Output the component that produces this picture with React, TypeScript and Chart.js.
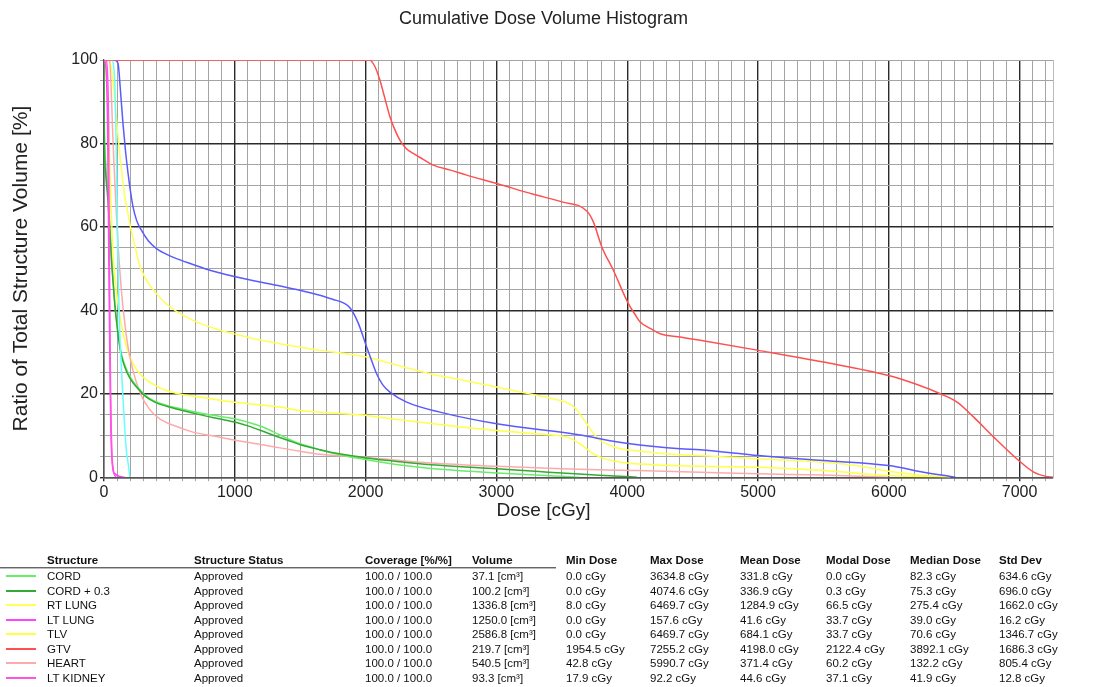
import React, { useEffect, useRef } from 'react';
import { Chart, registerables } from 'chart.js';

Chart.register(...registerables);

const FONT = '"Liberation Sans", Arial, sans-serif';

// ---- axes ----
const doseMin = 0;
const doseMax = 7255.2;
const doseMinorStep = 100;
const volMinorStep = 5;
const doseMajorTicks = [0, 1000, 2000, 3000, 4000, 5000, 6000, 7000];
const volMajorTicks = [0, 20, 40, 60, 80, 100];

// ---- DVH curves (dose cGy, volume %) ----
const gtvDose = [0, 1954.5, 2030, 2070, 2109, 2150, 2186, 2225, 2262, 2310, 2364, 2440, 2517, 2650, 2773, 3002, 3282, 3500, 3691, 3741, 3806, 3894, 4009, 4060, 4099, 4180, 4252, 4405, 4558, 5004, 5501, 5998, 6200, 6394, 6522, 6649, 6802, 6993, 7108, 7200, 7255.2];
const gtvVol = [100, 100, 100, 98.5, 95.2, 90.5, 86.4, 83.2, 80.8, 78.8, 77.6, 76.2, 74.8, 73.6, 72.4, 70.4, 67.8, 66.0, 63.8, 61.2, 55.2, 49.6, 41.6, 39.0, 37.2, 35.6, 34.4, 33.6, 32.8, 30.4, 27.6, 24.4, 22.4, 20.0, 18.0, 14.4, 9.6, 4.0, 1.2, 0.2, 0];

const blueDose = [0, 60, 80, 107, 125, 145, 165, 184, 205, 222, 250, 286, 340, 401, 480, 554, 680, 809, 1013, 1319, 1497, 1650, 1752, 1830, 1880, 1943, 2008, 2050, 2084, 2130, 2186, 2314, 2568, 3002, 3665, 3793, 4022, 4405, 4558, 5004, 5501, 5998, 6266, 6400, 6510];
const blueVol = [100, 100, 100, 99.2, 93, 84.8, 78, 72.8, 68, 64.8, 61.5, 59.2, 56.6, 54.8, 53.4, 52.4, 51, 49.6, 48, 46, 44.8, 43.6, 42.6, 41.8, 40.6, 37.0, 31.2, 27.6, 24.8, 22.2, 20.4, 18.0, 15.6, 12.8, 10.0, 9.2, 8.0, 6.8, 6.6, 5.2, 4.0, 2.8, 1.2, 0.5, 0];

const cordDose = [0, 1, 3, 6, 12, 20, 31, 45, 57, 70, 82, 95, 110, 130, 158, 200, 260, 320, 388, 480, 600, 732, 880, 1013, 1100, 1200, 1300, 1400, 1500, 1650, 1800, 2008, 2262, 2500, 2800, 3002, 3300, 3500, 3634.8];
const cordVol = [100, 92, 84, 80, 76, 72, 68, 60, 53, 47, 42, 38, 34, 30, 27, 24, 21.5, 19.5, 18.2, 17.2, 16.3, 15.4, 14.6, 13.9, 13.2, 12.2, 10.8, 9.3, 8.0, 6.6, 5.4, 4.2, 2.9, 2.1, 1.4, 1.0, 0.5, 0.2, 0];

const cord03Dose = [0, 1, 3, 6, 12, 20, 31, 45, 57, 70, 82, 95, 110, 130, 158, 200, 260, 320, 388, 480, 600, 732, 880, 1013, 1100, 1200, 1300, 1400, 1500, 1650, 1800, 2008, 2262, 2500, 2800, 3002, 3300, 3600, 3900, 4074.6];
const cord03Vol = [100, 88, 80, 76, 73, 70, 66, 59, 52, 46.5, 41.5, 37.5, 33.5, 29.5, 26.5, 23.6, 21.2, 19.3, 18, 17, 16, 15, 14, 13.1, 12.3, 11.2, 10.0, 8.9, 7.8, 6.6, 5.6, 4.6, 3.7, 3.0, 2.4, 2.0, 1.4, 0.8, 0.3, 0];

const rtLungDose = [0, 8, 50, 65, 80, 95, 110, 125, 140, 158, 184, 209, 240, 270, 311, 350, 400, 477, 560, 681, 850, 1013, 1200, 1344, 1497, 1650, 1850, 2008, 2200, 2492, 2750, 3002, 3250, 3487, 3560, 3614, 3650, 3691, 3740, 3793, 3870, 3946, 4100, 4405, 4558, 5004, 5501, 5750, 5998, 6200, 6469.7];
const rtLungVol = [100, 100, 99, 96, 91, 86, 81, 76, 72, 67.5, 63, 59, 55, 51, 48, 46, 44, 41.5, 39.6, 37.6, 35.6, 34.2, 32.8, 32, 31.2, 30.4, 29.6, 28.8, 27.2, 24.8, 23.2, 21.6, 20.0, 18.4, 17.6, 16.2, 14.6, 12.8, 10.6, 8.8, 7.6, 6.8, 6.2, 5.4, 5.2, 4.4, 3.6, 2.8, 1.4, 0.6, 0];

const ltLungDose = [0, 12, 20, 27, 32, 36, 40, 44, 48, 52, 58, 64, 70, 85, 110, 157.6];
const ltLungVol = [100, 99, 95, 85, 70, 55, 42, 30, 20, 12, 6, 3, 1.5, 0.8, 0.3, 0];

const tlvDose = [0, 10, 25, 35, 45, 55, 65, 80, 95, 110, 125, 140, 158, 184, 209, 250, 298, 380, 477, 600, 732, 987, 1200, 1344, 1497, 1750, 2008, 2250, 2517, 2750, 3002, 3300, 3538, 3640, 3690, 3741, 3830, 3946, 4200, 4558, 5004, 5501, 5998, 6200, 6469.7];
const tlvVol = [100, 99, 93, 85, 74, 64, 56, 49, 44.5, 41, 38, 35.5, 33, 30, 28, 25.8, 24, 22.2, 20.8, 19.8, 19.2, 18.0, 17.3, 16.8, 16.0, 15.4, 14.8, 13.8, 12.8, 12.0, 11.2, 10.4, 9.6, 8.0, 6.8, 5.6, 4.4, 3.6, 3.0, 2.6, 2.4, 1.6, 0.4, 0.15, 0];

const heartDose = [0, 42.8, 55, 65, 75, 90, 105, 120, 135, 155, 175, 200, 240, 286, 350, 426, 550, 681, 850, 1013, 1242, 1497, 1650, 2008, 2500, 3002, 3500, 4047, 4558, 5004, 5500, 5990.7];
const heartVol = [100, 100, 93, 84, 76, 66, 57, 50, 44, 38, 33, 28.5, 23.5, 19.5, 16.2, 14, 12.2, 10.8, 9.8, 8.8, 7.6, 6.2, 5.5, 4.7, 3.4, 2.6, 2.0, 1.6, 1.2, 0.8, 0.5, 0];

const ltKidneyDose = [0, 17.9, 28, 35, 39, 42, 46, 50, 55, 60, 66, 75, 92.2];
const ltKidneyVol = [100, 100, 96, 85, 65, 50, 35, 22, 12, 6, 3, 1, 0];

const cyanDose = [0, 65, 75, 83, 90, 97, 103, 108, 114, 120, 130, 145, 160, 172, 184, 197];
const cyanVol = [100, 100, 98, 94, 85, 72, 60, 50, 42, 35, 28, 19, 11, 6, 3.5, 0];

// ---- table ----
const tableHeaders = ['Structure', 'Structure Status', 'Coverage [%/%]', 'Volume', 'Min Dose', 'Max Dose', 'Mean Dose', 'Modal Dose', 'Median Dose', 'Std Dev'];
const structureNames = ['CORD', 'CORD + 0.3', 'RT LUNG', 'LT LUNG', 'TLV', 'GTV', 'HEART', 'LT KIDNEY'];
const structureColors = ['#66ee66', '#33aa33', '#ffff55', '#ff44ff', '#ffff44', '#ff5050', '#ffaaaa', '#ff55dd'];
const structureStatus = ['Approved', 'Approved', 'Approved', 'Approved', 'Approved', 'Approved', 'Approved', 'Approved'];
const coverage = ['100.0 / 100.0', '100.0 / 100.0', '100.0 / 100.0', '100.0 / 100.0', '100.0 / 100.0', '100.0 / 100.0', '100.0 / 100.0', '100.0 / 100.0'];
const volumes = ['37.1 [cm³]', '100.2 [cm³]', '1336.8 [cm³]', '1250.0 [cm³]', '2586.8 [cm³]', '219.7 [cm³]', '540.5 [cm³]', '93.3 [cm³]'];
const minDose = ['0.0 cGy', '0.0 cGy', '8.0 cGy', '0.0 cGy', '0.0 cGy', '1954.5 cGy', '42.8 cGy', '17.9 cGy'];
const maxDose = ['3634.8 cGy', '4074.6 cGy', '6469.7 cGy', '157.6 cGy', '6469.7 cGy', '7255.2 cGy', '5990.7 cGy', '92.2 cGy'];
const meanDose = ['331.8 cGy', '336.9 cGy', '1284.9 cGy', '41.6 cGy', '684.1 cGy', '4198.0 cGy', '371.4 cGy', '44.6 cGy'];
const modalDose = ['0.0 cGy', '0.3 cGy', '66.5 cGy', '33.7 cGy', '33.7 cGy', '2122.4 cGy', '60.2 cGy', '37.1 cGy'];
const medianDose = ['82.3 cGy', '75.3 cGy', '275.4 cGy', '39.0 cGy', '70.6 cGy', '3892.1 cGy', '132.2 cGy', '41.9 cGy'];
const stdDev = ['634.6 cGy', '696.0 cGy', '1662.0 cGy', '16.2 cGy', '1346.7 cGy', '1686.3 cGy', '805.4 cGy', '12.8 cGy'];

const columnX = [47, 194, 365, 472, 566, 650, 740, 826, 910, 999];

function pts(dose: number[], vol: number[]) {
  return dose.map((d, i) => ({ x: d, y: vol[i] }));
}

const curves = [
  { label: 'GTV', dose: gtvDose, vol: gtvVol, color: '#ff5050' },
  { label: 'LT KIDNEY', dose: ltKidneyDose, vol: ltKidneyVol, color: '#ff55dd' },
  { label: 'LT LUNG', dose: ltLungDose, vol: ltLungVol, color: '#ff44ff' },
  { label: '', dose: cyanDose, vol: cyanVol, color: '#66ffff' },
  { label: '', dose: blueDose, vol: blueVol, color: '#5a5aff' },
  { label: 'CORD + 0.3', dose: cord03Dose, vol: cord03Vol, color: '#33aa33' },
  { label: 'CORD', dose: cordDose, vol: cordVol, color: '#66ee66' },
  { label: 'HEART', dose: heartDose, vol: heartVol, color: '#ffaaaa' },
  { label: 'RT LUNG', dose: rtLungDose, vol: rtLungVol, color: '#ffff55' },
  { label: 'TLV', dose: tlvDose, vol: tlvVol, color: '#ffff44' },
];

const MAJOR = '#2a2a2a';
const MINOR = '#a4a4a4';

function DvhChart() {
  const ref = useRef<HTMLCanvasElement | null>(null);
  useEffect(() => {
    document.body.style.margin = '0';
    const canvas = ref.current;
    if (!canvas) return;
    const chart = new Chart(canvas, {
      type: 'line',
      data: {
        datasets: curves.map((c) => ({
          label: c.label,
          data: pts(c.dose, c.vol),
          borderColor: c.color,
          backgroundColor: c.color,
          borderWidth: 1.5,
          pointRadius: 0,
          fill: false,
          cubicInterpolationMode: 'monotone' as const,
        })),
      },
      options: {
        responsive: false,
        animation: false,
        devicePixelRatio: 1,
        layout: { padding: { left: 0, right: 20, top: 0, bottom: 0 } },
        plugins: {
          legend: { display: false },
          tooltip: { enabled: false },
          title: {
            display: true,
            text: 'Cumulative Dose Volume Histogram',
            color: '#222',
            font: { family: FONT, size: 18, weight: 'normal' },
            padding: { top: 8, bottom: 30.4 },
          },
          subtitle: {
            display: true,
            position: 'bottom',
            text: 'Dose [cGy]',
            color: '#222',
            font: { family: FONT, size: 19, weight: 'normal' },
            padding: { top: 0, bottom: 8 },
          },
        },
        scales: {
          x: {
            type: 'linear',
            min: doseMin,
            max: doseMax,
            afterFit: (s: any) => { s.height = 22; },
            ticks: {
              stepSize: doseMinorStep,
              autoSkip: false,
              maxRotation: 0,
              minRotation: 0,
              includeBounds: false,
              padding: 2,
              color: '#222',
              font: { family: FONT, size: 16 },
              callback: (v: any) => (doseMajorTicks.includes(Number(v)) ? String(v) : ''),
            },
            grid: {
              color: (ctx: any) => (ctx.tick && doseMajorTicks.includes(ctx.tick.value) ? MAJOR : MINOR),
              lineWidth: (ctx: any) => (ctx.tick && doseMajorTicks.includes(ctx.tick.value) ? 1.4 : 1),
              tickLength: 4,
            },
            border: { display: true, color: '#555', width: 1.3 },
          },
          y: {
            type: 'linear',
            min: 0,
            max: 100,
            afterFit: (s: any) => { s.width = 104; },
            ticks: {
              stepSize: volMinorStep,
              autoSkip: false,
              padding: 2,
              color: '#222',
              font: { family: FONT, size: 16 },
              callback: (v: any) => (volMajorTicks.includes(Number(v)) ? String(v) : ''),
            },
            grid: {
              color: (ctx: any) => (ctx.tick && volMajorTicks.includes(ctx.tick.value) && ctx.tick.value !== 100 ? MAJOR : MINOR),
              lineWidth: (ctx: any) => (ctx.tick && volMajorTicks.includes(ctx.tick.value) && ctx.tick.value !== 100 ? 1.4 : 1),
              tickLength: 4,
            },
            border: { display: true, color: '#555', width: 1.3 },
            title: {
              display: true,
              text: 'Ratio of Total Structure Volume [%]',
              color: '#222',
              font: { family: FONT, size: 21, weight: 'normal' },
              padding: { top: 9, bottom: 0 },
            },
          },
          y2: {
            type: 'linear',
            position: 'right',
            min: 0,
            max: 100,
            afterFit: (s: any) => { s.width = 34; },
            ticks: { display: false },
            grid: { display: false, drawTicks: false },
            border: { display: true, color: '#bbb', width: 1 },
          },
        },
      } as any,
    });
    return () => chart.destroy();
  }, []);
  return <canvas ref={ref} width={1107} height={530} style={{ display: 'block', width: 1107, height: 530 }} />;
}

const cellStyle: React.CSSProperties = {
  position: 'absolute',
  fontFamily: FONT,
  fontSize: 11.5,
  lineHeight: '14px',
  color: '#111',
  whiteSpace: 'nowrap',
};

function DvhTable() {
  const rowCols = [structureNames, structureStatus, coverage, volumes, minDose, maxDose, meanDose, modalDose, medianDose, stdDev];
  const headerTop = 553;
  const firstRowTop = 569;
  const rowStep = 14.55;
  return (
    <div style={{ position: 'absolute', left: 0, top: 0, width: 1107, height: 687 }}>
      {tableHeaders.map((h, i) => (
        <div key={'h' + i} style={{ ...cellStyle, left: columnX[i], top: headerTop, fontWeight: 'bold' }}>{h}</div>
      ))}
      <div style={{ position: 'absolute', left: 0, top: 567, width: 556, height: 1, background: '#666' }} />
      <div style={{ position: 'absolute', left: 0, top: 568, width: 556, height: 1, background: '#bbb' }} />
      {structureNames.map((_, r) => (
        <React.Fragment key={'r' + r}>
          <div style={{ position: 'absolute', left: 6, top: Math.round(firstRowTop + r * rowStep + 6), width: 30, height: 2, background: structureColors[r] }} />
          {rowCols.map((col, c) => (
            <div key={'c' + c} style={{ ...cellStyle, left: columnX[c], top: firstRowTop + r * rowStep }}>{col[r]}</div>
          ))}
        </React.Fragment>
      ))}
    </div>
  );
}

export default function App() {
  return (
    <div style={{ position: 'relative', width: 1107, height: 687, background: '#fff', overflow: 'hidden' }}>
      <DvhChart />
      <DvhTable />
    </div>
  );
}
